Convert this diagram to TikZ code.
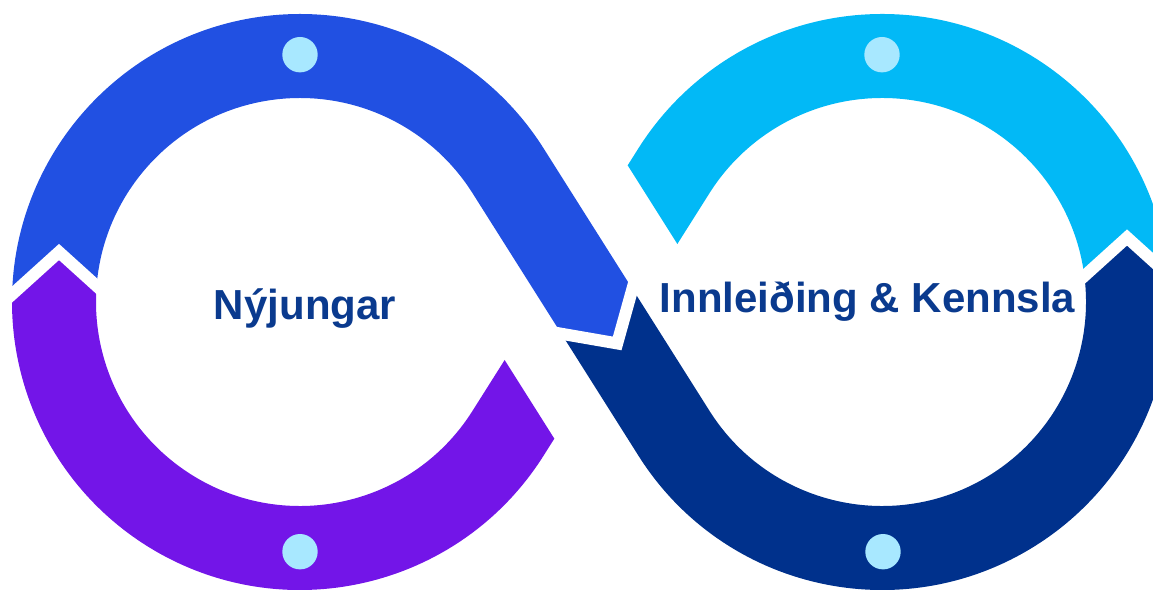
\documentclass[tikz,border=0pt]{standalone}
\usepackage{fontspec}
\setmainfont{Liberation Sans}
\usetikzlibrary{calc}

\definecolor{bandblue}{HTML}{2150E2}
\definecolor{bandpurple}{HTML}{7315E8}
\definecolor{bandcyan}{HTML}{02B9F6}
\definecolor{bandnavy}{HTML}{00318C}
\definecolor{dotblue}{HTML}{A8E8FF}
\definecolor{textnavy}{HTML}{0A3A8E}

\begin{document}
\begin{tikzpicture}[x=1pt,y=1pt,
        band/.style={line width=84pt},
        seamline/.style={draw=white,line width=12pt,miter limit=20},
        dot/.style={circle,fill=dotblue,minimum size=35.4pt,inner sep=0pt},
        looptext/.style={text=textnavy,font=\bfseries\fontsize{42}{50}\selectfont,anchor=base,inner sep=0pt},
        seam/.pic={
          \coordinate (-t) at (0,0);
          \coordinate (-a) at (-50,55.3);
          \coordinate (-b) at (-50,-55.3);
          \coordinate (-fa) at (40,55.3);
          \coordinate (-fb) at (40,-55.3);
          \coordinate (-ba) at (-100,55.3);
          \coordinate (-bb) at (-100,-55.3);
        },
        cutzone/.pic={
          \coordinate (-p1) at (-130,104);
          \coordinate (-p2) at (130,104);
          \coordinate (-p3) at (130,-104);
          \coordinate (-p4) at (-130,-104);
        }]
        \useasboundingbox (0,0) rectangle (1153,589);
        \clip (0,0) rectangle (1153,589);

        \coordinate (C1) at (300,287);
        \coordinate (C2) at (882,287);
        \coordinate (M) at (591,287);

        \pic[rotate=90] (jl) at (59,337) {seam};
        \pic[rotate=-57.72] (jc) at ($(M)+(-57.72:49)$) {seam};
        \pic[rotate=90] (jr) at (1127,351.5) {seam};
        \pic[rotate=-57.72] (jx) at (M) {cutzone};

        \begin{scope}[even odd rule]
          \clip (-100,-100) rectangle (1300,700)
            (jr-t) -- (jr-a) -- (jr-ba) -- (jr-bb) -- (jr-b) -- cycle
            (jx-p1) -- (jx-p2) -- (jx-p3) -- (jx-p4) -- cycle;
          \draw[band,bandcyan] ($(C2)+(3:246)$) arc[start angle=3,end angle=147.72,radius=246pt] -- (M);
        \end{scope}

        \begin{scope}[even odd rule]
          \clip (-100,-100) rectangle (1300,700)
            (jc-t) -- (jc-a) -- (jc-ba) -- (jc-bb) -- (jc-b) -- cycle
            (jr-t) -- (jr-a) -- (jr-fa) -- (jr-fb) -- (jr-b) -- cycle;
          \draw[band,bandnavy] ($(M)+(122.28:11)$) -- ($(C2)+(212.28:246)$) arc[start angle=212.28,end angle=377.5,radius=246pt];
        \end{scope}

        \begin{scope}[even odd rule]
          \clip (-100,-100) rectangle (1300,700)
            (jl-t) -- (jl-a) -- (jl-ba) -- (jl-bb) -- (jl-b) -- cycle
            (jc-t) -- (jc-a) -- (jc-fa) -- (jc-fb) -- (jc-b) -- cycle;
          \draw[band,bandblue] ($(C1)+(185:246)$) arc[start angle=185,end angle=32.28,radius=246pt] -- ($(M)+(-57.72:59)$);
        \end{scope}

        \begin{scope}[even odd rule]
          \clip (-100,-100) rectangle (1300,700)
            (jl-t) -- (jl-a) -- (jl-fa) -- (jl-fb) -- (jl-b) -- cycle
            (jx-p1) -- (jx-p2) -- (jx-p3) -- (jx-p4) -- cycle;
          \draw[band,bandpurple] (M) -- ($(C1)+(-32.28:246)$) arc[start angle=-32.28,end angle=-194.3,radius=246pt];
        \end{scope}

        \draw[seamline] (jl-a) -- (jl-t) -- (jl-b);
        \draw[seamline] (jc-a) -- (jc-t) -- (jc-b);
        \draw[seamline] (jr-a) -- (jr-t) -- (jr-b);

        \node[dot] (dTL) at (300,534.3) {};
        \node[dot] (dTR) at (882,534.3) {};
        \node[dot] (dBL) at (300,37.3) {};
        \node[dot] (dBR) at (883,37.3) {};

        \node[looptext] (nyj) at (305,269) {Nýjungar};
        \node[looptext] (inn) at (867.5,276) {Innleiðing \& Kennsla};
      \end{tikzpicture}
\end{document}
